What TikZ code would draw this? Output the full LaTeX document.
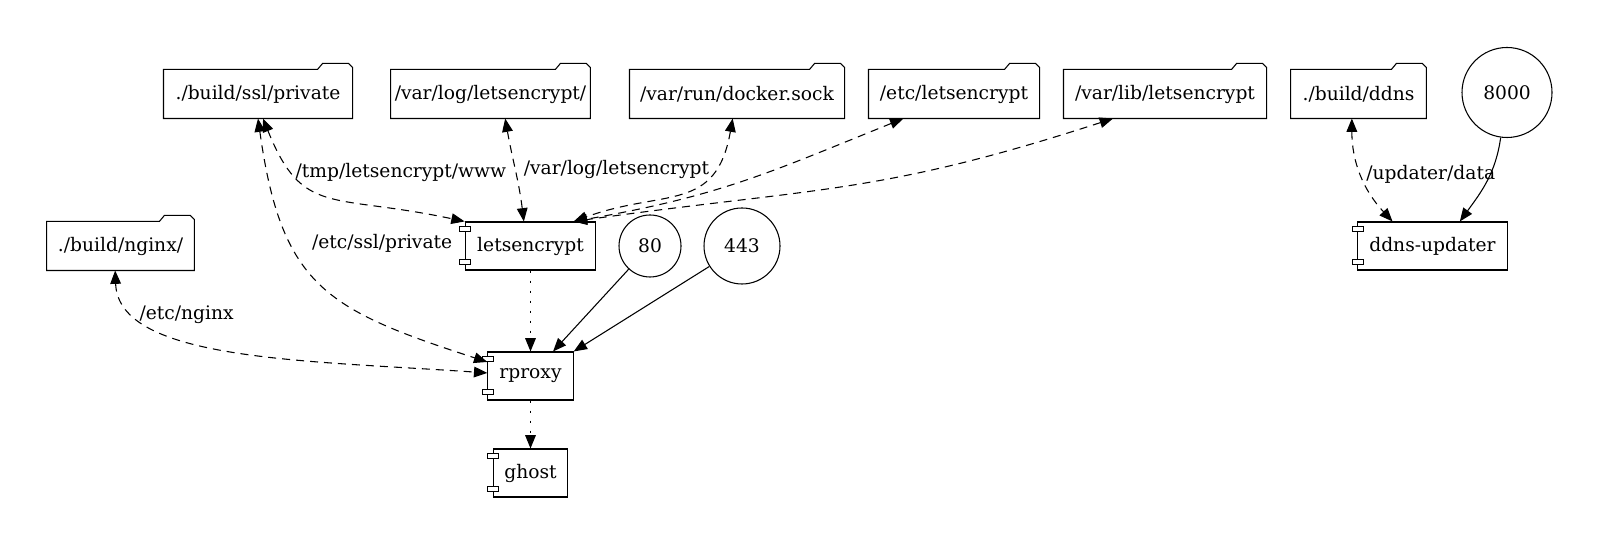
\documentclass[tikz,border=0pt]{standalone}
\usepackage{fontspec}
\setmainfont{DejaVu Serif}
\usetikzlibrary{arrows.meta}
\tikzset{
  folder/.style={minimum height=36pt, inner sep=0pt},
  comp/.style={draw, minimum height=36pt, inner sep=0pt},
  port/.style={draw, circle, inner sep=0pt},
  tip/.tip={Triangle[length=10pt, width=8pt]},
  vol/.style={dash pattern=on 6pt off 4.5pt, tip-tip},
  dep/.style={dash pattern=on 1.5pt off 6pt, -tip},
  lbl/.style={inner sep=0pt}
}
\begin{document}
\begin{tikzpicture}[x=0.75pt, y=0.75pt, font=\fontsize{14pt}{16pt}\selectfont, line width=0.8pt]
\useasboundingbox (0,0) rectangle (1602,545);
% host volumes
\node[folder, minimum width=141pt] (sslpriv) at (258,451) {./build/ssl/private};
\node[folder, minimum width=149pt] (varlog) at (490.5,451) {/var/log/letsencrypt/};
\node[folder, minimum width=160.5pt] (docker) at (737,451) {/var/run/docker.sock};
\node[folder, minimum width=127.5pt] (etcle) at (954,451) {/etc/letsencrypt};
\node[folder, minimum width=151.5pt] (varlib) at (1165,451) {/var/lib/letsencrypt};
\node[folder, minimum width=101pt] (ddns) at (1358.5,451) {./build/ddns};
\node[folder, minimum width=110pt] (nginx) at (120.5,299) {./build/nginx/};
\foreach \f in {sslpriv,varlog,docker,etcle,varlib,ddns,nginx}
  \draw (\f.north west) -- ([xshift=-26.25pt]\f.north east) -- ++(3.75pt,4.5pt)
    -- ([xshift=-3pt,yshift=4.5pt]\f.north east) -- ([yshift=1.5pt]\f.north east)
    -- (\f.south east) -- (\f.south west) -- cycle;
% services
\node[comp, minimum width=98pt] (letsencrypt) at (530.5,299) {letsencrypt};
\node[comp, minimum width=64pt] (rproxy) at (530.5,169) {rproxy};
\node[comp, minimum width=56pt] (ghost) at (530.5,72) {ghost};
\node[comp, minimum width=112pt] (ddnsupd) at (1432.5,299) {ddns-updater};
\foreach \c in {letsencrypt,rproxy,ghost,ddnsupd} {
  \draw[fill=white] ([xshift=-3.75pt,yshift=-3.75pt]\c.north west) rectangle ++(8.25pt,-3.75pt);
  \draw[fill=white] ([xshift=-3.75pt,yshift=4.5pt]\c.south west) rectangle ++(8.25pt,3.75pt);
}
% ports
\node[port, minimum size=46.5pt] (eighty) at (650,299) {80};
\node[port, minimum size=57pt] (fourft) at (742,299) {443};
\node[port, minimum size=67.5pt] (eightk) at (1507,452.5) {8000};
% mounts
\path[vol]
  ([xshift=3.75pt]sslpriv.south) edge[out=-68, in=168, out looseness=1.2, in looseness=1.55]
    node[lbl, pos=0.25, right=2pt] {/tmp/letsencrypt/www} (letsencrypt.north west)
  (sslpriv.south) edge[out=-82, in=162, looseness=1.3]
    node[lbl, pos=0.33, right=15pt] {/etc/ssl/private} (rproxy)
  ([xshift=-4pt]nginx.south) edge[out=-88, in=176, out looseness=0.6, in looseness=1.2]
    node[lbl, pos=0.2, right=1pt] {/etc/nginx} (rproxy)
  ([xshift=11pt]varlog.south) edge[out=-80, in=97]
    node[lbl, pos=0.5, right=6pt] {/var/log/letsencrypt} ([xshift=-5pt]letsencrypt.north)
  (docker) edge[out=-100, in=20, looseness=1.3] ([xshift=-17pt]letsencrypt.north east)
  ([xshift=-38pt]etcle.south) edge[out=-158, in=10, looseness=1.1] ([xshift=-17pt]letsencrypt.north east)
  ([xshift=-39pt]varlib.south) edge[out=-162, in=8, looseness=1.15] ([xshift=-17pt]letsencrypt.north east)
  ([xshift=-5pt]ddns.south) edge[out=-90, in=133]
    node[lbl, pos=0.5, right=3.5pt] {/updater/data} ([xshift=-30pt]ddnsupd.north);
% published ports
\path[-tip]
  (eightk) edge[out=-98, in=54] ([xshift=20.5pt]ddnsupd.north)
  (eighty) edge (rproxy)
  (fourft) edge (rproxy.north east);
% depends_on
\path[dep]
  (letsencrypt) edge (rproxy)
  (rproxy) edge (ghost);
\end{tikzpicture}
\end{document}
